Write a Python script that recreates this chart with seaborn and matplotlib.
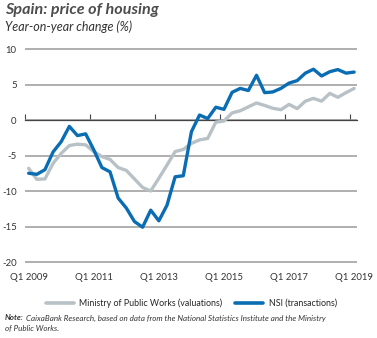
import numpy as np
import pandas as pd
import matplotlib
matplotlib.use("Agg")
import matplotlib.pyplot as plt
import seaborn as sns

# ---- data (quarterly, Q1 2009 .. Q1 2019) ----
years = list(range(2009, 2020))
quarters = [f"Q{q} {y}" for y in years for q in (1, 2, 3, 4)][:41]
ministry = [-6.8, -8.35, -8.3, -6.1, -4.7, -3.6, -3.4, -3.5, -4.45, -5.15,
            -5.55, -6.7, -7.1, -8.3, -9.5, -10.0, -8.2, -6.35, -4.45, -4.15,
            -3.3, -2.8, -2.6, -0.3, -0.15, 1.0, 1.3, 1.85, 2.4, 2.05,
            1.65, 1.45, 2.2, 1.6, 2.65, 3.05, 2.65, 3.75, 3.2, 3.85, 4.45]
nsi = [-7.5, -7.65, -7.0, -4.5, -3.05, -0.9, -2.2, -1.95, -4.2, -6.7,
       -7.3, -11.0, -12.4, -14.3, -15.1, -12.7, -14.2, -12.0, -8.0, -7.85,
       -1.65, 0.7, 0.2, 1.8, 1.5, 3.9, 4.45, 4.15, 6.3, 3.85,
       3.95, 4.45, 5.2, 5.55, 6.6, 7.15, 6.2, 6.8, 7.1, 6.6, 6.75]
series_names = ["Ministry of Public Works (valuations)", "NSI (transactions)"]
tick_labels = ["Q1 2009", "Q1 2011", "Q1 2013", "Q1 2015", "Q1 2017", "Q1 2019"]
y_ticks = [-20, -15, -10, -5, 0, 5, 10]

df = pd.DataFrame({
    "t": list(range(len(quarters))) * 2,
    "value": ministry + nsi,
    "series": [series_names[0]] * len(ministry) + [series_names[1]] * len(nsi),
})

sns.set_theme(style="white")
plt.rcParams["font.family"] = ["Lato", "DejaVu Sans"]

GRAY = "#b8c2c6"
BLUE = "#0a6db3"
TXT = "#333333"

# axes box: y=10 at 49px, y=-20 at 262px (7.1 px per unit), small margins
ylo, yhi = -20.3, 10.3
px_per = (262 - 49) / 30.0
top_px = 49 - (yhi - 10) * px_per
bot_px = 262 + (-20 - ylo) * px_per

fig = plt.figure(figsize=(3.77, 3.38), dpi=100)
ax = fig.add_axes([25 / 377, 1 - bot_px / 338, (357 - 25) / 377, (bot_px - top_px) / 338])

sns.lineplot(data=df, x="t", y="value", hue="series", hue_order=series_names,
             palette=[GRAY, BLUE], linewidth=2.4, ax=ax)

ax.set_ylim(ylo, yhi)
ax.set_xlim(-0.4, 40.35)
ax.set_yticks(y_ticks)
ax.set_yticklabels([str(v) for v in y_ticks])
ax.set_axisbelow(True)
ax.yaxis.grid(True, color="#9a9a9a", linewidth=1.1)
ax.xaxis.grid(False)

# x axis sits on zero line, tick marks point up, labels at bottom
label_pos = [quarters.index(l) for l in tick_labels]
ax.set_xticks(label_pos)
ax.set_xticklabels(tick_labels)
ax.set_xticks([p - 0.45 for p in label_pos], minor=True)
for s in ["top", "right", "left"]:
    ax.spines[s].set_visible(False)
ax.spines["bottom"].set_position(("data", 0))
ax.spines["bottom"].set_color("#444444")
ax.spines["bottom"].set_linewidth(0.9)
ax.spines["bottom"].set_zorder(1)
ax.tick_params(axis="x", which="major", length=0, pad=110, labelsize=6.9,
               labelcolor=TXT)
ax.tick_params(axis="x", which="minor", direction="in", length=4, width=0.8,
               color="#444444", bottom=True)
ax.tick_params(axis="y", length=0, pad=6, labelsize=6.9, labelcolor=TXT)
for lab in ax.get_yticklabels():
    lab.set_horizontalalignment("right")
ax.set_xlabel("")
ax.set_ylabel("")

sns.move_legend(ax, "center", bbox_to_anchor=(0.507, 1 - 303 / 338),
                bbox_transform=fig.transFigure, ncol=2, frameon=False,
                title=None, fontsize=6.4, handlelength=3.2, handletextpad=0.6,
                columnspacing=1.4)
for h in ax.get_legend().legend_handles:
    h.set_linewidth(2.6)

fig.text(5 / 377, 1 - 10 / 338, "Spain: price of housing", fontsize=11.6,
         fontweight="bold", fontstyle="italic", color="#4d4d4d", va="center", ha="left")
fig.text(5 / 377, 1 - 27 / 338, "Year-on-year change (%)", fontsize=9,
         fontstyle="italic", color=TXT, va="center", ha="left")

note_y1 = 1 - 318 / 338
note_y2 = 1 - 328 / 338
t_note = fig.text(5 / 377, note_y1, "Note:", fontsize=5.8, fontweight="bold",
                  fontstyle="italic", color=TXT, va="center", ha="left")
fig.canvas.draw()
bb = t_note.get_window_extent(renderer=fig.canvas.get_renderer())
x_after = (bb.x1 + 2) / fig.bbox.width
fig.text(x_after, note_y1,
         "CaixaBank Research, based on data from the National Statistics Institute and the Ministry",
         fontsize=5.8, fontstyle="italic", color=TXT, va="center", ha="left")
fig.text(5 / 377, note_y2, "of Public Works.", fontsize=5.8, fontstyle="italic",
         color=TXT, va="center", ha="left")

fig.savefig("out.png", dpi=100)
